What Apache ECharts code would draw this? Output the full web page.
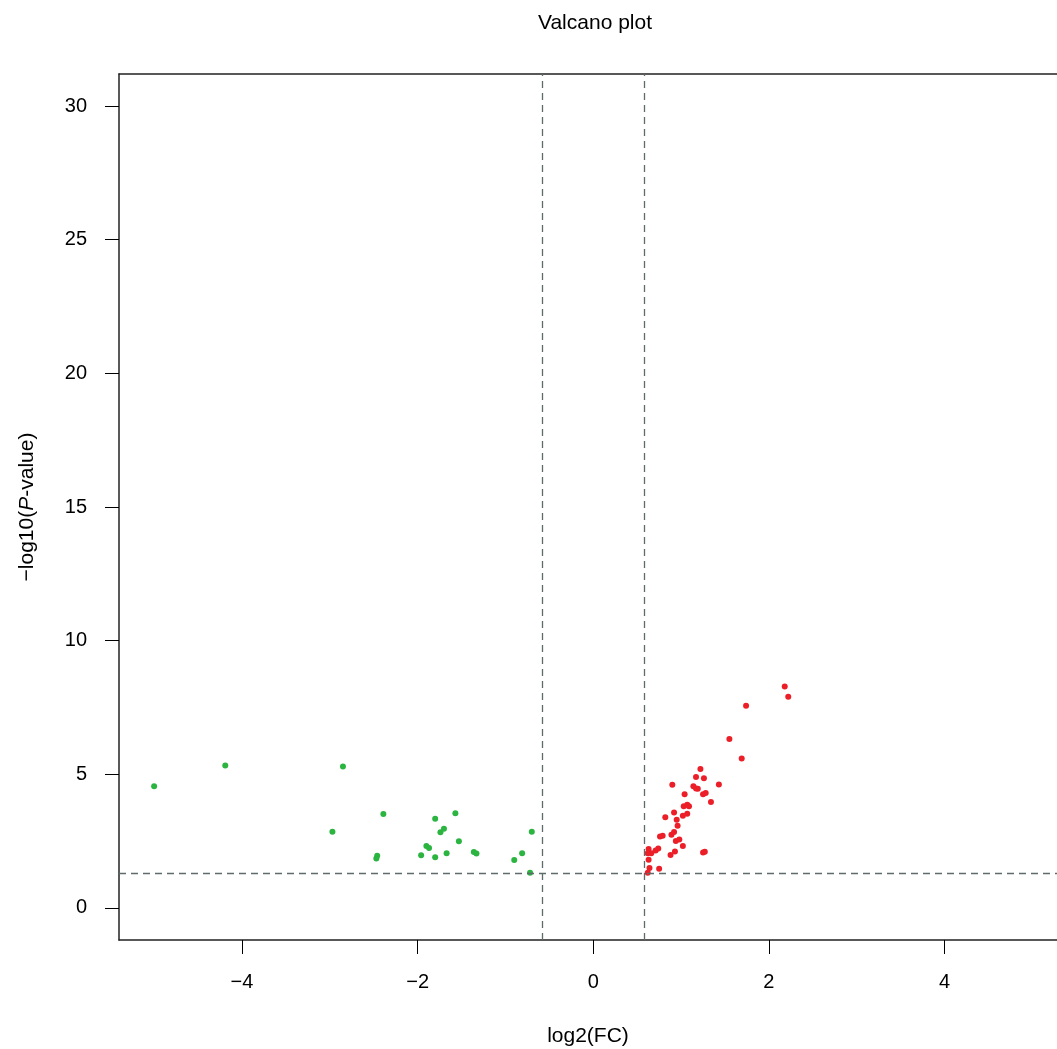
<!DOCTYPE html>
<html>
<head>
<meta charset="utf-8">
<script src="https://cdn.jsdelivr.net/npm/echarts@6/dist/echarts.min.js"></script>
<style>
  html, body { margin: 0; padding: 0; background: #fff; }
  #volcanoBox { width: 1057px; height: 1049px; }
</style>
</head>
<body>
<div id="volcanoBox"></div>
<script>
// down-regulated genes: [log2FC, -log10 p]
const downGenes = [
  [-5.00, 4.55], [-4.19, 5.33], [-2.85, 5.29], [-2.97, 2.85],
  [-2.39, 3.51], [-2.46, 1.95], [-2.47, 1.85], [-1.80, 3.34],
  [-1.57, 3.54], [-1.70, 2.96], [-1.74, 2.83], [-1.53, 2.49],
  [-1.90, 2.32], [-1.87, 2.24], [-1.96, 1.97], [-1.80, 1.90],
  [-1.67, 2.05], [-1.36, 2.09], [-1.33, 2.04], [-0.90, 1.79],
  [-0.81, 2.05], [-0.70, 2.85], [-0.72, 1.32]
];
// up-regulated genes
const upGenes = [
  [2.18, 8.28], [2.22, 7.90], [1.74, 7.56], [1.55, 6.32], [1.69, 5.59],
  [1.22, 5.20], [1.17, 4.90], [1.26, 4.85], [0.90, 4.61], [1.43, 4.62],
  [1.14, 4.55], [1.17, 4.47], [1.19, 4.46], [1.25, 4.25], [1.28, 4.30],
  [1.04, 4.25], [1.34, 3.96], [1.03, 3.80], [1.07, 3.86], [1.09, 3.80],
  [0.92, 3.57], [1.07, 3.52], [1.02, 3.45], [0.82, 3.39], [0.95, 3.30],
  [0.96, 3.07], [0.76, 2.67], [0.79, 2.70], [0.89, 2.74], [0.92, 2.84],
  [0.94, 2.50], [0.98, 2.56], [1.02, 2.32], [0.63, 2.20], [0.66, 2.05],
  [0.71, 2.15], [0.74, 2.22], [0.62, 2.05], [0.63, 1.80], [0.93, 2.11],
  [0.88, 1.98], [1.25, 2.07], [1.27, 2.10], [0.64, 1.49], [0.62, 1.32],
  [0.75, 1.47]
];
const xTicks = [-4, -2, 0, 2, 4];
const yTicks = [0, 5, 10, 15, 20, 25, 30];
const fcCut = 0.585;   // log2(1.5)
const pCut = 1.301;    // -log10(0.05)

var myChart = echarts.init(document.getElementById("volcanoBox"));

const font = "Liberation Sans, Arial, sans-serif";
// the box runs past the right edge of the picture, so the visible x range stops short
const xMin = -5.4;
const xMax = 5.28;

var option = {
  animation: false,
  textStyle: { fontFamily: font, color: "#000" },
  title: {
    text: "Valcano plot",
    left: 590,
    textAlign: "center",
    top: 8,
    textStyle: { fontSize: 21, fontWeight: "normal", color: "#000", fontFamily: font }
  },
  grid: {
    left: 119,
    top: 74,
    right: 0,
    bottom: 109,
    outerBoundsMode: "none",
    containLabel: false,
    show: false
  },
  xAxis: [
    {
      type: "value",
      min: xMin,
      max: xMax,
      name: "log2(FC)",
      nameLocation: "middle",
      nameGap: 86,
      nameTextStyle: { fontSize: 21, color: "#000", fontFamily: font },
      splitLine: { show: false },
      axisLine: { show: true, onZero: false, lineStyle: { color: "#222", width: 1.5 } },
      axisTick: {
        show: true, length: 14, inside: false,
        customValues: xTicks,
        lineStyle: { color: "#000", width: 1 }
      },
      axisLabel: {
        customValues: xTicks,
        margin: 32,
        fontSize: 20,
        color: "#000",
        fontFamily: font,
        formatter: function (v) { return v < 0 ? "\u2212" + Math.abs(v) : String(v); }
      }
    },
    {
      // top edge of the box
      type: "value",
      position: "top",
      min: xMin,
      max: xMax,
      splitLine: { show: false },
      axisLine: { show: true, onZero: false, lineStyle: { color: "#222", width: 1.5 } },
      axisTick: { show: false },
      axisLabel: { show: false }
    }
  ],
  yAxis: {
    type: "value",
    min: -1.2,
    max: 31.2,
    name: "{n|\u2212log10(}{i|P}{n|-value)}",
    nameLocation: "middle",
    nameGap: 81,
    nameRotate: 90,
    nameTextStyle: {
      rich: {
        n: { fontSize: 21, color: "#000", fontFamily: font },
        i: { fontSize: 21, color: "#000", fontFamily: font, fontStyle: "italic" }
      }
    },
    splitLine: { show: false },
    axisLine: { show: true, onZero: false, lineStyle: { color: "#222", width: 1.5 } },
    axisTick: {
      show: true, length: 14, inside: false,
      customValues: yTicks,
      lineStyle: { color: "#000", width: 1 }
    },
    axisLabel: {
      customValues: yTicks,
      margin: 32,
      fontSize: 20,
      color: "#000",
      fontFamily: font
    }
  },
  series: [
    {
      name: "down",
      type: "scatter",
      data: downGenes,
      symbolSize: 6,
      itemStyle: { color: "#2bb440", opacity: 1 },
      markLine: {
        silent: true,
        symbol: "none",
        label: { show: false },
        lineStyle: { color: "#5f6b6b", type: [7, 5], width: 1.3 },
        data: [{ xAxis: -fcCut }, { xAxis: fcCut }, { yAxis: pCut }]
      }
    },
    {
      name: "up",
      type: "scatter",
      data: upGenes,
      symbolSize: 6,
      itemStyle: { color: "#ec1f28", opacity: 1 }
    }
  ]
};

myChart.setOption(option);
</script>
</body>
</html>
